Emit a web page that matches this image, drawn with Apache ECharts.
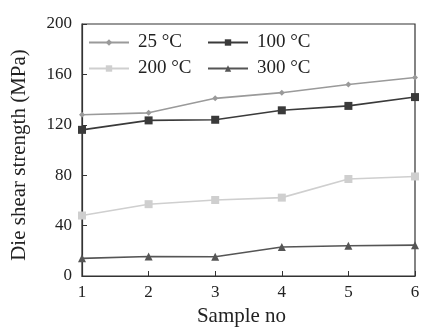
<!DOCTYPE html>
<html><head><meta charset="utf-8">
<script src="https://cdn.jsdelivr.net/npm/echarts@6/dist/echarts.min.js"></script>
<style>html,body{margin:0;padding:0;background:#fff}#c{width:434px;height:332px}</style>
</head><body><div id="c"></div>
<script>
const samples = [1, 2, 3, 4, 5, 6];
const s25 = [128, 129.5, 141, 145.5, 152, 157.5];
const s100 = [116, 123.5, 124, 131.5, 135, 142];
const s200 = [48, 57, 60.3, 62.2, 77, 79];
const s300 = [14, 15.5, 15.3, 23, 24, 24.5];
const yTicks = [0, 40, 80, 120, 160, 200];
const names = ['25 °C', '100 °C', '200 °C', '300 °C'];

const font = 'Liberation Serif, Times New Roman, serif';
function pts(v){ return samples.map((x,i)=>[x, v[i]]); }
const chart = echarts.init(document.getElementById('c'), null, {renderer:'canvas'});
function mk(name, data, color, symbol, size){
  return {name, type:'line', data:pts(data), symbol, symbolSize:size,
    lineStyle:{color, width:1.6}, itemStyle:{color}, animation:false};
}
const legendText = {fontFamily:font, fontSize:19, color:'#222', padding:[0,0,0,4]};
chart.setOption({
  backgroundColor:'#fff',
  grid:{left:82, right:19, top:24, bottom:56, show:true, borderColor:'#333', borderWidth:1.2},
  legend:[
    {data:[names[0], names[2]], orient:'vertical', left:83, top:28, itemWidth:40, itemHeight:8, itemGap:7, textStyle:legendText},
    {data:[names[1], names[3]], orient:'vertical', left:202, top:28, itemWidth:40, itemHeight:8, itemGap:7, textStyle:legendText}
  ],
  xAxis:{type:'value', min:1, max:6, interval:1, name:'Sample no', nameLocation:'middle', nameGap:30,
    nameTextStyle:{fontFamily:font, fontSize:21, color:'#222', padding:[0,14,0,0]},
    axisLine:{lineStyle:{color:'#333', width:1.2}}, axisTick:{inside:true, length:5, lineStyle:{color:'#333'}},
    axisLabel:{fontFamily:font, fontSize:17, color:'#222', margin:8}, splitLine:{show:false}},
  yAxis:{type:'value', min:0, max:200, interval:40, name:'Die shear strength (MPa)', nameLocation:'middle', nameGap:52,
    nameTextStyle:{fontFamily:font, fontSize:21, color:'#222', padding:[0,10,0,0]},
    axisLine:{show:true, lineStyle:{color:'#333', width:1.2}}, axisTick:{show:true, inside:true, length:5, lineStyle:{color:'#333'}},
    axisLabel:{fontFamily:font, fontSize:17, color:'#222', margin:10, formatter:v=>yTicks.includes(v)?String(v):''}, splitLine:{show:false}},
  series:[
    mk(names[0], s25, '#9a9a9a', 'diamond', 6),
    mk(names[1], s100, '#3a3a3a', 'rect', 8),
    mk(names[2], s200, '#cfcfcf', 'rect', 8),
    mk(names[3], s300, '#555555', 'triangle', 8)
  ]
});
</script></body></html>
